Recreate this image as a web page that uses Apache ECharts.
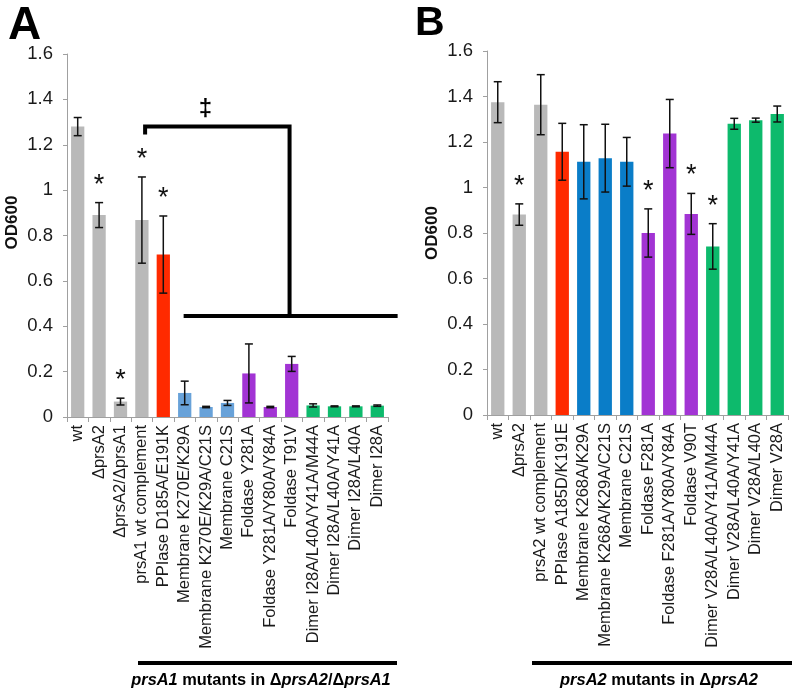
<!DOCTYPE html>
<html>
<head>
<meta charset="utf-8">
<script src="https://cdn.jsdelivr.net/npm/echarts@6/dist/echarts.min.js"></script>
<style>
html,body{margin:0;padding:0;background:#fff;}
#chart{width:800px;height:694px;}
</style>
</head>
<body>
<div id="chart"></div>
<script>
// ---------- Panel A data ----------
const catsA = ['wt','ΔprsA2','ΔprsA2/ΔprsA1','prsA1 wt complement','PPIase D185A/E191K','Membrane K270E/K29A','Membrane K270E/K29A/C21S','Membrane C21S','Foldase Y281A','Foldase Y281A/Y80A/Y84A','Foldase T91V','Dimer I28A/L40A/Y41A/M44A','Dimer I28A/L40A/Y41A','Dimer I28A/L40A','Dimer I28A'];
const valsA = [1.28,0.89,0.068,0.868,0.716,0.106,0.044,0.062,0.192,0.044,0.234,0.051,0.047,0.047,0.05];
const errA  = [0.04,0.055,0.015,0.19,0.17,0.052,0.003,0.011,0.13,0.003,0.033,0.007,0.002,0.002,0.003];
const groupA = ['wt','wt','wt','wt','ppiase','membrane','membrane','membrane','foldase','foldase','foldase','dimer','dimer','dimer','dimer'];
const starsA = [1,2,3,4];
// bracket (category index positions, values)
const bracketA = {topVal:1.28, tickEndVal:1.245, leftIdx:3.15, rightIdx:9.9, lowVal:0.445, lowStart:4.95, lowEnd:14.95};

// ---------- Panel B data ----------
const catsB = ['wt','ΔprsA2','prsA2 wt complement','PPIase A185D/K191E','Membrane K268A/K29A','Membrane K268A/K29A/C21S','Membrane C21S','Foldase F281A','Foldase F281A/Y80A/Y84A','Foldase V90T','Dimer V28A/L40A/Y41A/M44A','Dimer V28A/L40A/Y41A','Dimer V28A/L40A','Dimer V28A'];
const valsB = [1.375,0.881,1.364,1.157,1.113,1.129,1.113,0.8,1.237,0.884,0.741,1.28,1.296,1.323];
const errB  = [0.09,0.047,0.132,0.125,0.163,0.149,0.107,0.106,0.15,0.09,0.1,0.024,0.009,0.035];
const groupB = ['wt','wt','wt','ppiase','membrane','membrane','membrane','foldase','foldase','foldase','dimer','dimer','dimer','dimer'];
const starsB = [1,7,9,10];

const yTicks = [0,0.2,0.4,0.6,0.8,1,1.2,1.4,1.6];

const colorsA = {wt:'#b9b9b9', ppiase:'#ff2a00', membrane:'#68a2d9', foldase:'#a234d4', dimer:'#0dba6c'};
const colorsB = {wt:'#b9b9b9', ppiase:'#ff2a00', membrane:'#0a7dc8', foldase:'#a234d4', dimer:'#0dba6c'};

const FONT = '"Liberation Sans", Arial, sans-serif';

function errSeries(xi, yi, vals, errs){
  return {
    type:'custom', xAxisIndex:xi, yAxisIndex:yi, z:5,
    data: vals.map((v,i)=>[i, v-errs[i], v+errs[i]]),
    renderItem:(params, api)=>{
      const lo = api.coord([api.value(0), api.value(1)]);
      const hi = api.coord([api.value(0), api.value(2)]);
      const x = lo[0], hw = 4;
      const st = {stroke:'#111', lineWidth:1.5};
      return {type:'group', children:[
        {type:'line', shape:{x1:x,y1:lo[1],x2:x,y2:hi[1]}, style:st},
        {type:'line', shape:{x1:x-hw,y1:lo[1],x2:x+hw,y2:lo[1]}, style:st},
        {type:'line', shape:{x1:x-hw,y1:hi[1],x2:x+hw,y2:hi[1]}, style:st}
      ]};
    }
  };
}
function starSeries(xi, yi, vals, errs, idxs){
  return {
    type:'custom', xAxisIndex:xi, yAxisIndex:yi, z:6,
    data: idxs.map(i=>[i, vals[i]+errs[i]]),
    renderItem:(params, api)=>{
      const p = api.coord([api.value(0), api.value(1)]);
      return {type:'text', style:{text:'*', x:p[0], y:p[1]-4, align:'center', verticalAlign:'bottom', font:'27px '+FONT, fill:'#111'}};
    }
  };
}
function barSeries(xi, yi, vals, groups, colors){
  return {
    type:'bar', xAxisIndex:xi, yAxisIndex:yi, barCategoryGap:'38%',
    data: vals.map((v,i)=>({value:v, itemStyle:{color:colors[groups[i]]}})),
    silent:true
  };
}
function xAxisCfg(gi, cats){
  return {
    type:'category', gridIndex:gi, data:cats,
    axisLine:{lineStyle:{color:'#a0a0a0', width:1}},
    axisTick:{show:true, length:5, lineStyle:{color:'#a0a0a0'}},
    axisLabel:{rotate:90, interval:0, fontSize:16.5, color:'#1a1a1a', fontFamily:FONT, margin:8}
  };
}
function yAxisCfg(gi, shift){
  return {
    type:'value', gridIndex:gi, min:yTicks[0], max:yTicks[yTicks.length-1], interval:0.2,
    name:'OD600', nameLocation:'middle', nameGap:46,
    nameTextStyle:{fontSize:17, fontWeight:'bold', color:'#111', fontFamily:FONT, padding:[0,0,0,shift]},
    axisLine:{show:true, lineStyle:{color:'#a0a0a0', width:1}},
    axisTick:{show:true, length:4, lineStyle:{color:'#a0a0a0'}},
    splitLine:{show:false},
    axisLabel:{fontSize:18.5, color:'#1a1a1a', fontFamily:FONT, margin:14}
  };
}

const chart = echarts.init(document.getElementById('chart'), null, {renderer:'canvas'});
chart.setOption({
  animation:false,
  backgroundColor:'#fff',
  grid:[
    {left:67, top:54, width:321, height:363},
    {left:487, top:51, width:301, height:364}
  ],
  xAxis:[xAxisCfg(0,catsA), xAxisCfg(1,catsB)],
  yAxis:[yAxisCfg(0,26), yAxisCfg(1,0)],
  series:[
    barSeries(0,0,valsA,groupA,colorsA),
    errSeries(0,0,valsA,errA),
    starSeries(0,0,valsA,errA,starsA),
    {
      type:'custom', xAxisIndex:0, yAxisIndex:0, z:7,
      data:[[0,0]],
      renderItem:(params, api)=>{
        const bw = api.size([1,0])[0];
        const px = (f, v)=>{const fl=Math.floor(f); const p=api.coord([fl, v]); return [p[0]+(f-fl)*bw, p[1]];};
        const b = bracketA;
        const tl = px(b.leftIdx, b.topVal), tr = px(b.rightIdx, b.topVal);
        const tk = px(b.leftIdx, b.tickEndVal);
        const ml = px(b.rightIdx, b.lowVal);
        const ll = px(b.lowStart, b.lowVal), lr = px(b.lowEnd, b.lowVal);
        const st = {stroke:'#000', lineWidth:4};
        return {type:'group', children:[
          {type:'polyline', shape:{points:[tk, tl, tr, ml]}, style:Object.assign({fill:null}, st)},
          {type:'line', shape:{x1:ll[0],y1:ll[1],x2:lr[0],y2:lr[1]}, style:st},
          {type:'text', style:{text:'‡', x:(tl[0]+tr[0])/2 - 12, y:tl[1]-5, align:'center', verticalAlign:'bottom', font:'bold 24px '+FONT, fill:'#000'}}
        ]};
      }
    },
    barSeries(1,1,valsB,groupB,colorsB),
    errSeries(1,1,valsB,errB),
    starSeries(1,1,valsB,errB,starsB)
  ],
  graphic:[
    {type:'text', left:8, top:3, style:{text:'A', font:'bold 46px '+FONT, fill:'#000'}},
    {type:'text', left:415, top:3, style:{text:'B', font:'bold 41px '+FONT, fill:'#000'}},
    {type:'rect', shape:{x:138, y:661, width:259, height:4}, style:{fill:'#000'}},
    {type:'rect', shape:{x:532, y:661, width:260, height:4}, style:{fill:'#000'}},
    {type:'text', x:261, y:680, style:{
      text:'{i|prsA1}{b| mutants in Δ}{i|prsA2}{b|/Δ}{i|prsA1}', align:'center', verticalAlign:'middle',
      rich:{i:{font:'italic bold 16.4px '+FONT, fill:'#000'}, b:{font:'bold 16.4px '+FONT, fill:'#000'}}
    }},
    {type:'text', x:659, y:680, style:{
      text:'{i|prsA2}{b| mutants in Δ}{i|prsA2}', align:'center', verticalAlign:'middle',
      rich:{i:{font:'italic bold 16.5px '+FONT, fill:'#000'}, b:{font:'bold 16.5px '+FONT, fill:'#000'}}
    }}
  ]
});
</script>
</body>
</html>
